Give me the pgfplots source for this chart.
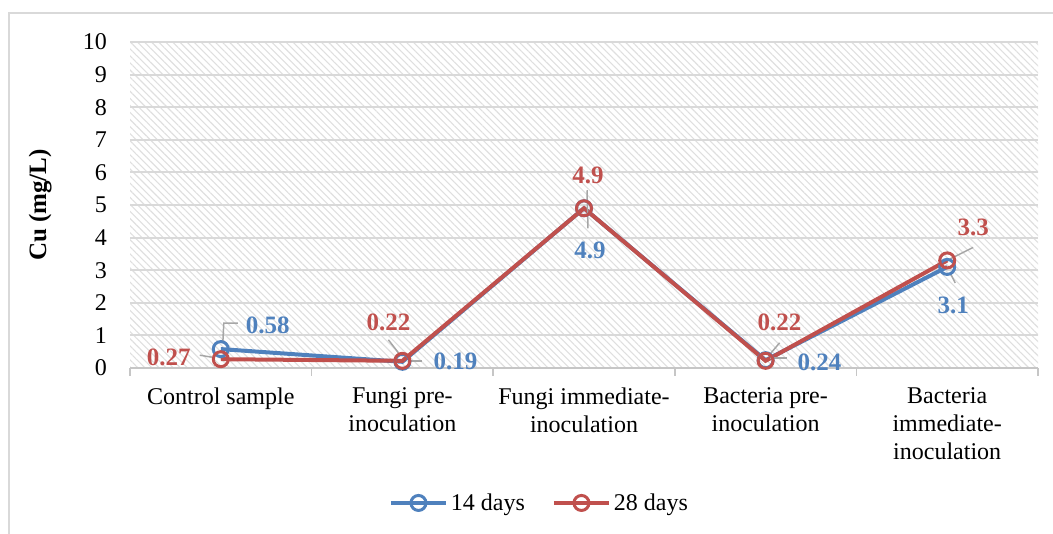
\documentclass[border=0pt]{standalone}
\usepackage{pgfplots}
\pgfplotsset{compat=1.18}
\usepackage{fontspec}
\setmainfont{Liberation Serif}
\usetikzlibrary{patterns.meta}
\definecolor{cblue}{HTML}{4F81BD}
\definecolor{cred}{HTML}{C0504D}
\definecolor{gridc}{HTML}{D9D9D9}
\definecolor{leadc}{HTML}{A6A6A6}
\newcommand{\tfont}{\fontsize{24}{28}\selectfont}
\newcommand{\lfont}{\fontsize{25}{28}\selectfont\bfseries}
\begin{document}
\begin{tikzpicture}
\useasboundingbox (0,0) rectangle (1053pt,534pt);
\draw[gridc, line width=2pt] (9pt,0pt) -- (9pt,521pt) -- (1053pt,521pt);
\begin{axis}[
  at={(130pt,166pt)}, anchor=south west,
  scale only axis, width=908pt, height=326pt,
  xmin=-0.5, xmax=4.5, ymin=0, ymax=10,
  clip=false,
  axis background/.style={pattern={Lines[angle=-45,distance=5pt,line width=1.1pt]}, pattern color=gray!25},
  axis x line*=bottom, axis y line*=left,
  y axis line style={draw=none},
  x axis line style={draw=gray!45, line width=1.5pt},
  ytick={0,1,...,10},
  ytick style={draw=none},
  ymajorgrids, major grid style={draw=gridc, line width=2pt},
  xtick={0,1,2,3,4},
  xticklabels={Control sample, Fungi pre-\\inoculation, Fungi immediate-\\inoculation, Bacteria pre-\\inoculation, Bacteria\\immediate-\\inoculation},
  major x tick style={draw=none},
  minor xtick={-0.5,0.5,1.5,2.5,3.5,4.5},
  minor x tick style={draw=gray!45, line width=1.5pt},
  minor tick length=8pt,
  xtick align=outside,
  /pgf/number format/assume math mode=true,
  yticklabel style={font=\tfont, anchor=east, inner sep=0pt, xshift=-23pt},
  xticklabel style={font=\tfont, align=center, anchor=north, inner sep=0pt, yshift=-15pt},
  ylabel={\textbf{Cu (mg/L)}},
  ylabel style={font=\fontsize{25}{28}\selectfont, at={(axis description cs:-0.099,0.5)}, anchor=center},
  legend style={at={(axis description cs:0.4515,-0.414)}, anchor=center, draw=none, fill=none,
    legend columns=2, font=\tfont,
    /tikz/every even column/.append style={column sep=24pt},
    nodes={inner sep=3pt}},
  legend image code/.code={\draw[mark repeat=2, mark phase=2, #1] plot coordinates {(0pt,0pt) (27.5pt,0pt) (55pt,0pt)};},
]
\addplot[cblue, line width=4pt, mark=o, mark size=7.5pt, mark options={line width=3pt, fill=white, solid}]
  coordinates {(0,0.58) (1,0.19) (2,4.9) (3,0.24) (4,3.1)};
\addlegendentry{14 days}
\addplot[cred, line width=4pt, mark=o, mark size=7.5pt, mark options={line width=3pt, fill=white, solid}]
  coordinates {(0,0.27) (1,0.22) (2,4.9) (3,0.22) (4,3.3)};
\addlegendentry{28 days}
% leader lines
\draw[leadc, line width=1.5pt] ([shift={(2pt,6pt)}]axis cs:0,0.58) -- ++(1pt,20pt) -- ++(14pt,0pt);
\draw[leadc, line width=1.5pt] ([shift={(-21pt,4pt)}]axis cs:0,0.27) -- ([shift={(-9pt,2pt)}]axis cs:0,0.27);
\draw[leadc, line width=1.5pt] ([shift={(-14pt,21pt)}]axis cs:1,0.22) -- ([shift={(-4pt,8pt)}]axis cs:1,0.22);
\draw[leadc, line width=1.5pt] ([shift={(9pt,1pt)}]axis cs:1,0.19) -- ([shift={(20pt,1pt)}]axis cs:1,0.19);
\draw[leadc, line width=1.5pt] ([shift={(3pt,18pt)}]axis cs:2,4.9) -- ([shift={(4pt,-20pt)}]axis cs:2,4.9);
\draw[leadc, line width=1.5pt] ([shift={(14pt,18pt)}]axis cs:3,0.22) -- ([shift={(3pt,5pt)}]axis cs:3,0.22);
\draw[leadc, line width=1.5pt] ([shift={(4pt,2pt)}]axis cs:3,0.24) -- ([shift={(21pt,2pt)}]axis cs:3,0.24);
\draw[leadc, line width=1.5pt] ([shift={(2pt,1pt)}]axis cs:4,3.3) -- ([shift={(26pt,13pt)}]axis cs:4,3.3);
\draw[leadc, line width=1.5pt] ([shift={(3pt,-6pt)}]axis cs:4,3.1) -- ([shift={(8pt,-16pt)}]axis cs:4,3.1);
% data labels
\node[font=\lfont, text=cblue, xshift=47pt, yshift=24pt] at (axis cs:0,0.58) {0.58};
\node[font=\lfont, text=cred, xshift=-52pt, yshift=2pt] at (axis cs:0,0.27) {0.27};
\node[font=\lfont, text=cred, xshift=-14pt, yshift=38pt] at (axis cs:1,0.22) {0.22};
\node[font=\lfont, text=cblue, xshift=53pt, yshift=0pt] at (axis cs:1,0.19) {0.19};
\node[font=\lfont, text=cred, xshift=4pt, yshift=33pt] at (axis cs:2,4.9) {4.9};
\node[font=\lfont, text=cblue, xshift=6pt, yshift=-42pt] at (axis cs:2,4.9) {4.9};
\node[font=\lfont, text=cred, xshift=14pt, yshift=38pt] at (axis cs:3,0.22) {0.22};
\node[font=\lfont, text=cblue, xshift=54pt, yshift=-2pt] at (axis cs:3,0.24) {0.24};
\node[font=\lfont, text=cred, xshift=26pt, yshift=33pt] at (axis cs:4,3.3) {3.3};
\node[font=\lfont, text=cblue, xshift=6pt, yshift=-38pt] at (axis cs:4,3.1) {3.1};
\end{axis}
\end{tikzpicture}
\end{document}
